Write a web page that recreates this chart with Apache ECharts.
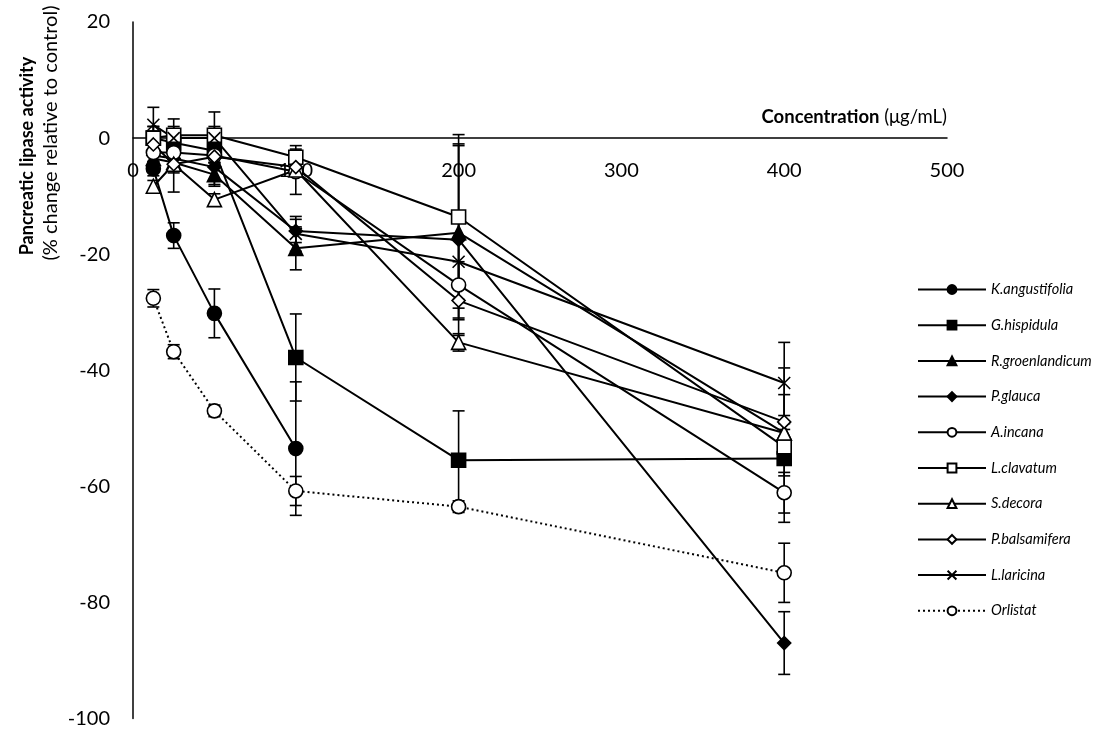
<!DOCTYPE html>
<html>
<head>
<meta charset="utf-8">
<script src="https://cdn.jsdelivr.net/npm/echarts@6/dist/echarts.min.js"></script>
<style>
html, body { margin: 0; padding: 0; background: #fff; }
#chart { width: 1100px; height: 740px; }
</style>
</head>
<body>
<div id="chart"></div>
<script>
// concentrations (µg/mL) shared by every series
var concentrations = [12.5, 25, 50, 100, 200, 400];

// % change relative to control, with error (±)
var kAngustifolia = [-5.3, -16.8, -30.2, -53.5];
var kAngustifoliaErr = [1.2, 2.2, 4.2, 11.5];
var gHispidula = [0, -0.8, -2.2, -37.8, -55.5, -55.2];
var gHispidulaErr = [2, 2, 2, 7.5, 8.5, 11];
var rGroenlandicum = [-3.5, -4.2, -6.3, -19, -16.3, -50.8];
var rGroenlandicumErr = [1, 1, 2, 3.7, 15, 3];
var pGlauca = [-3, -3.5, -5, -16, -17.5, -87];
var pGlaucaErr = [1, 1, 3, 2, 16.5, 5.4];
var aIncana = [-2.5, -2.5, -3, -5.8, -25.3, -61.1];
var aIncanaErr = [2, 2, 2, 3.9, 4, 3.5];
var lClavatum = [0, 0.5, 0.5, -3.3, -13.6, -53.2];
var lClavatumErr = [2, 2.8, 4, 2, 14.2, 3];
var sDecora = [-8.3, -4.5, -10.6, -5.5, -35.2, -50.8];
var sDecoraErr = [1, 4.8, 1, 1, 1.5, 2];
var pBalsamifera = [-1.1, -4.5, -3.2, -5, -28, -48.9];
var pBalsamiferaErr = [1, 1.5, 1, 1, 3, 9.3];
var lLaricina = [2.3, 0, 0, -16.5, -21.3, -42.2];
var lLaricinaErr = [3, 2, 2, 3, 4, 7];
var orlistat = [-27.6, -36.8, -47, -60.8, -63.5, -74.9];
var orlistatErr = [1.5, 1.2, 1, 2.5, 1, 5.1];

// axis ranges
var xMin = 0, xMax = 500, xStep = 100;
var yMin = -100, yMax = 20, yStep = 20;

var FONT = 'Lato, "Open Sans", sans-serif';
var DIAMOND = 'path://M5,0L10,5L5,10L0,5Z';
var CROSS = 'path://M0,0L10,10M10,0L0,10';

var GRID_TOP = 22, GRID_BOTTOM = 21.5;
var PLOT_H = 740 - GRID_TOP - GRID_BOTTOM;
// distance from the bottom of the plot up to y = 0
var zeroLift = PLOT_H * (0 - yMin) / (yMax - yMin);

var specs = [
    {name: 'K.angustifolia', values: kAngustifolia, err: kAngustifoliaErr, symbol: 'circle', fill: '#000', size: 14},
    {name: 'G.hispidula', values: gHispidula, err: gHispidulaErr, symbol: 'rect', fill: '#000', size: 14},
    {name: 'R.groenlandicum', values: rGroenlandicum, err: rGroenlandicumErr, symbol: 'triangle', fill: '#000', size: 14},
    {name: 'P.glauca', values: pGlauca, err: pGlaucaErr, symbol: DIAMOND, fill: '#000', size: 13},
    {name: 'A.incana', values: aIncana, err: aIncanaErr, symbol: 'circle', fill: '#fff', size: 14},
    {name: 'L.clavatum', values: lClavatum, err: lClavatumErr, symbol: 'rect', fill: '#fff', size: 14},
    {name: 'S.decora', values: sDecora, err: sDecoraErr, symbol: 'triangle', fill: '#fff', size: 14},
    {name: 'P.balsamifera', values: pBalsamifera, err: pBalsamiferaErr, symbol: DIAMOND, fill: '#fff', size: 13},
    {name: 'L.laricina', values: lLaricina, err: lLaricinaErr, symbol: CROSS, fill: 'none', size: 12},
    {name: 'Orlistat', values: orlistat, err: orlistatErr, symbol: 'circle', fill: '#fff', size: 14, dotted: true}
];

function errorSeries(spec) {
    var data = spec.values.map(function (v, i) {
        return [concentrations[i], v - spec.err[i], v + spec.err[i]];
    });
    return {
        type: 'custom',
        data: data,
        silent: true,
        encode: {x: 0, y: [1, 2]},
        renderItem: function (params, api) {
            var x = api.value(0);
            var lo = api.coord([x, api.value(1)]);
            var hi = api.coord([x, api.value(2)]);
            var w = 6;
            var st = {stroke: '#000', lineWidth: 1.6};
            return {
                type: 'group',
                children: [
                    {type: 'line', shape: {x1: lo[0], y1: lo[1], x2: hi[0], y2: hi[1]}, style: st},
                    {type: 'line', shape: {x1: lo[0] - w, y1: lo[1], x2: lo[0] + w, y2: lo[1]}, style: st},
                    {type: 'line', shape: {x1: hi[0] - w, y1: hi[1], x2: hi[0] + w, y2: hi[1]}, style: st}
                ]
            };
        }
    };
}

function lineSeries(spec) {
    return {
        type: 'line',
        name: spec.name,
        data: spec.values.map(function (v, i) { return [concentrations[i], v]; }),
        symbol: spec.symbol,
        symbolSize: spec.size,
        showAllSymbol: true,
        lineStyle: {color: '#000', width: 2, type: spec.dotted ? [2, 3] : 'solid'},
        itemStyle: {color: spec.fill, borderColor: '#000', borderWidth: 1.6, opacity: 1}
    };
}

var series = [];
specs.forEach(function (s) {
    series.push(errorSeries(s));
    series.push(lineSeries(s));
});

var chart = echarts.init(document.getElementById('chart'));
chart.setOption({
    animation: false,
    grid: {left: 133, right: 153, top: GRID_TOP, bottom: GRID_BOTTOM, outerBoundsMode: 'none', containLabel: false},
    legend: {
        orient: 'vertical',
        left: 912,
        top: 277,
        itemWidth: 68,
        itemHeight: 11,
        itemGap: 20.7,
        data: specs.map(function (s) { return s.name; }),
        textStyle: {fontFamily: FONT, fontSize: 14.5, fontStyle: 'italic', color: '#000', lineHeight: 14}
    },
    xAxis: {
        type: 'value',
        position: 'bottom',
        offset: -zeroLift,
        min: xMin, max: xMax, interval: xStep,
        axisLine: {onZero: false, lineStyle: {color: '#000', width: 1.5}},
        axisTick: {show: false},
        splitLine: {show: false},
        axisLabel: {color: '#000', fontFamily: FONT, fontSize: 20, margin: 22}
    },
    yAxis: {
        type: 'value',
        min: yMin, max: yMax, interval: yStep,
        axisLine: {show: true, onZero: false, lineStyle: {color: '#000', width: 1.5}},
        axisTick: {show: false},
        splitLine: {show: false},
        axisLabel: {color: '#000', fontFamily: FONT, fontSize: 20, margin: 23}
    },
    graphic: [
        {
            type: 'text', x: 947, y: 117,
            style: {
                text: '{b|Concentration} (μg/mL)',
                align: 'right', verticalAlign: 'middle',
                fontFamily: FONT, fontSize: 18.5, fill: '#000',
                rich: {b: {fontWeight: 'bold', fontFamily: FONT, fontSize: 18.5}}
            }
        },
        {
            type: 'text', x: 27, y: 156, rotation: Math.PI / 2,
            style: {
                text: 'Pancreatic lipase activity',
                align: 'center', verticalAlign: 'middle',
                fontFamily: FONT, fontSize: 18, fontWeight: 'bold', fill: '#000'
            }
        },
        {
            type: 'text', x: 51, y: 133, rotation: Math.PI / 2,
            style: {
                text: '(% change relative to control)',
                align: 'center', verticalAlign: 'middle',
                fontFamily: FONT, fontSize: 20, fill: '#000'
            }
        }
    ],
    series: series
});
</script>
</body>
</html>
